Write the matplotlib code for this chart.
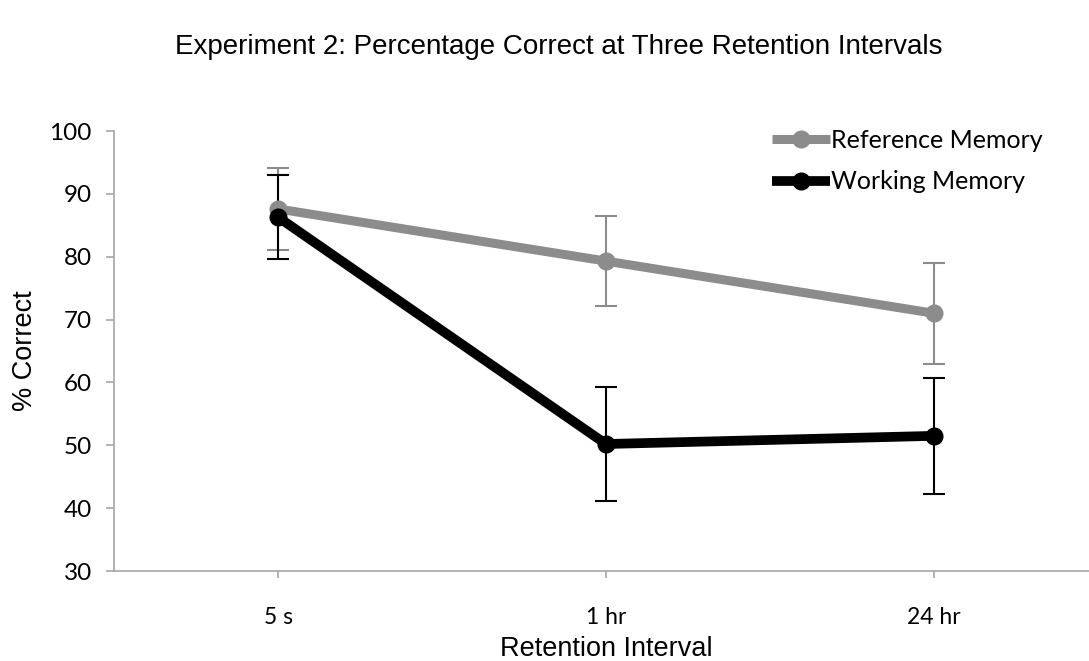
import numpy as np
import matplotlib.pyplot as plt

intervals = ["5 s", "1 hr", "24 hr"]
ref_mean = [87.6, 79.3, 71.0]
ref_err = [6.5, 7.2, 8.0]
work_mean = [86.3, 50.2, 51.5]
work_err = [6.7, 9.1, 9.2]

tick_font = "Lato"
grey = "#8c8c8c"
axis_grey = "#a6a6a6"

fig = plt.figure(figsize=(10.89, 6.61), dpi=100)
ax = fig.add_axes([114 / 1089, 90 / 661, 984 / 1089, 440 / 661])

x = np.arange(len(intervals))

ax.errorbar(x, ref_mean, yerr=ref_err, fmt="none", ecolor=grey, elinewidth=1.5,
            capsize=8, capthick=1.5, zorder=2)
ax.errorbar(x, work_mean, yerr=work_err, fmt="none", ecolor="black", elinewidth=1.5,
            capsize=8, capthick=1.5, zorder=2)
ax.plot(x, ref_mean, color=grey, lw=6.5, marker="o", ms=12, label="Reference Memory",
        solid_capstyle="butt", zorder=3)
ax.plot(x, work_mean, color="black", lw=7, marker="o", ms=12, label="Working Memory",
        solid_capstyle="butt", zorder=4)

ax.set_xlim(-0.5, 2.5)
ax.set_ylim(30, 100)
ax.set_yticks(range(30, 101, 10))
ax.set_xticks(x)
ax.set_xticklabels(intervals)

for s in ["top", "right"]:
    ax.spines[s].set_visible(False)
for s in ["left", "bottom"]:
    ax.spines[s].set_color(axis_grey)
    ax.spines[s].set_linewidth(1.2)
ax.tick_params(axis="y", direction="out", length=6, width=1.2, color=axis_grey, pad=10)
ax.tick_params(axis="x", direction="out", length=5, width=1.2, color=axis_grey, pad=21)
for lab in ax.get_yticklabels():
    lab.set_fontfamily(tick_font)
    lab.set_fontsize(17.5)
for lab in ax.get_xticklabels():
    lab.set_fontfamily(tick_font)
    lab.set_fontsize(16.5)

ax.set_xlabel("Retention Interval", fontsize=19.5, family="Liberation Sans", labelpad=6)
ax.set_ylabel("% Correct", fontsize=19.5, family="Liberation Sans", labelpad=8)

fig.text(559 / 1089, 1 - 47 / 661, "Experiment 2: Percentage Correct at Three Retention Intervals",
         ha="center", va="center", fontsize=20, family="Liberation Sans")

ax.legend(loc="upper left", bbox_to_anchor=(772 / 1089, 1 - 129 / 661),
          bbox_transform=fig.transFigure, frameon=False, borderpad=0, borderaxespad=0,
          handlelength=2.3, handletextpad=0.05, labelspacing=0.73,
          prop={"family": tick_font, "size": 18})

fig.savefig("out.png", dpi=100)
